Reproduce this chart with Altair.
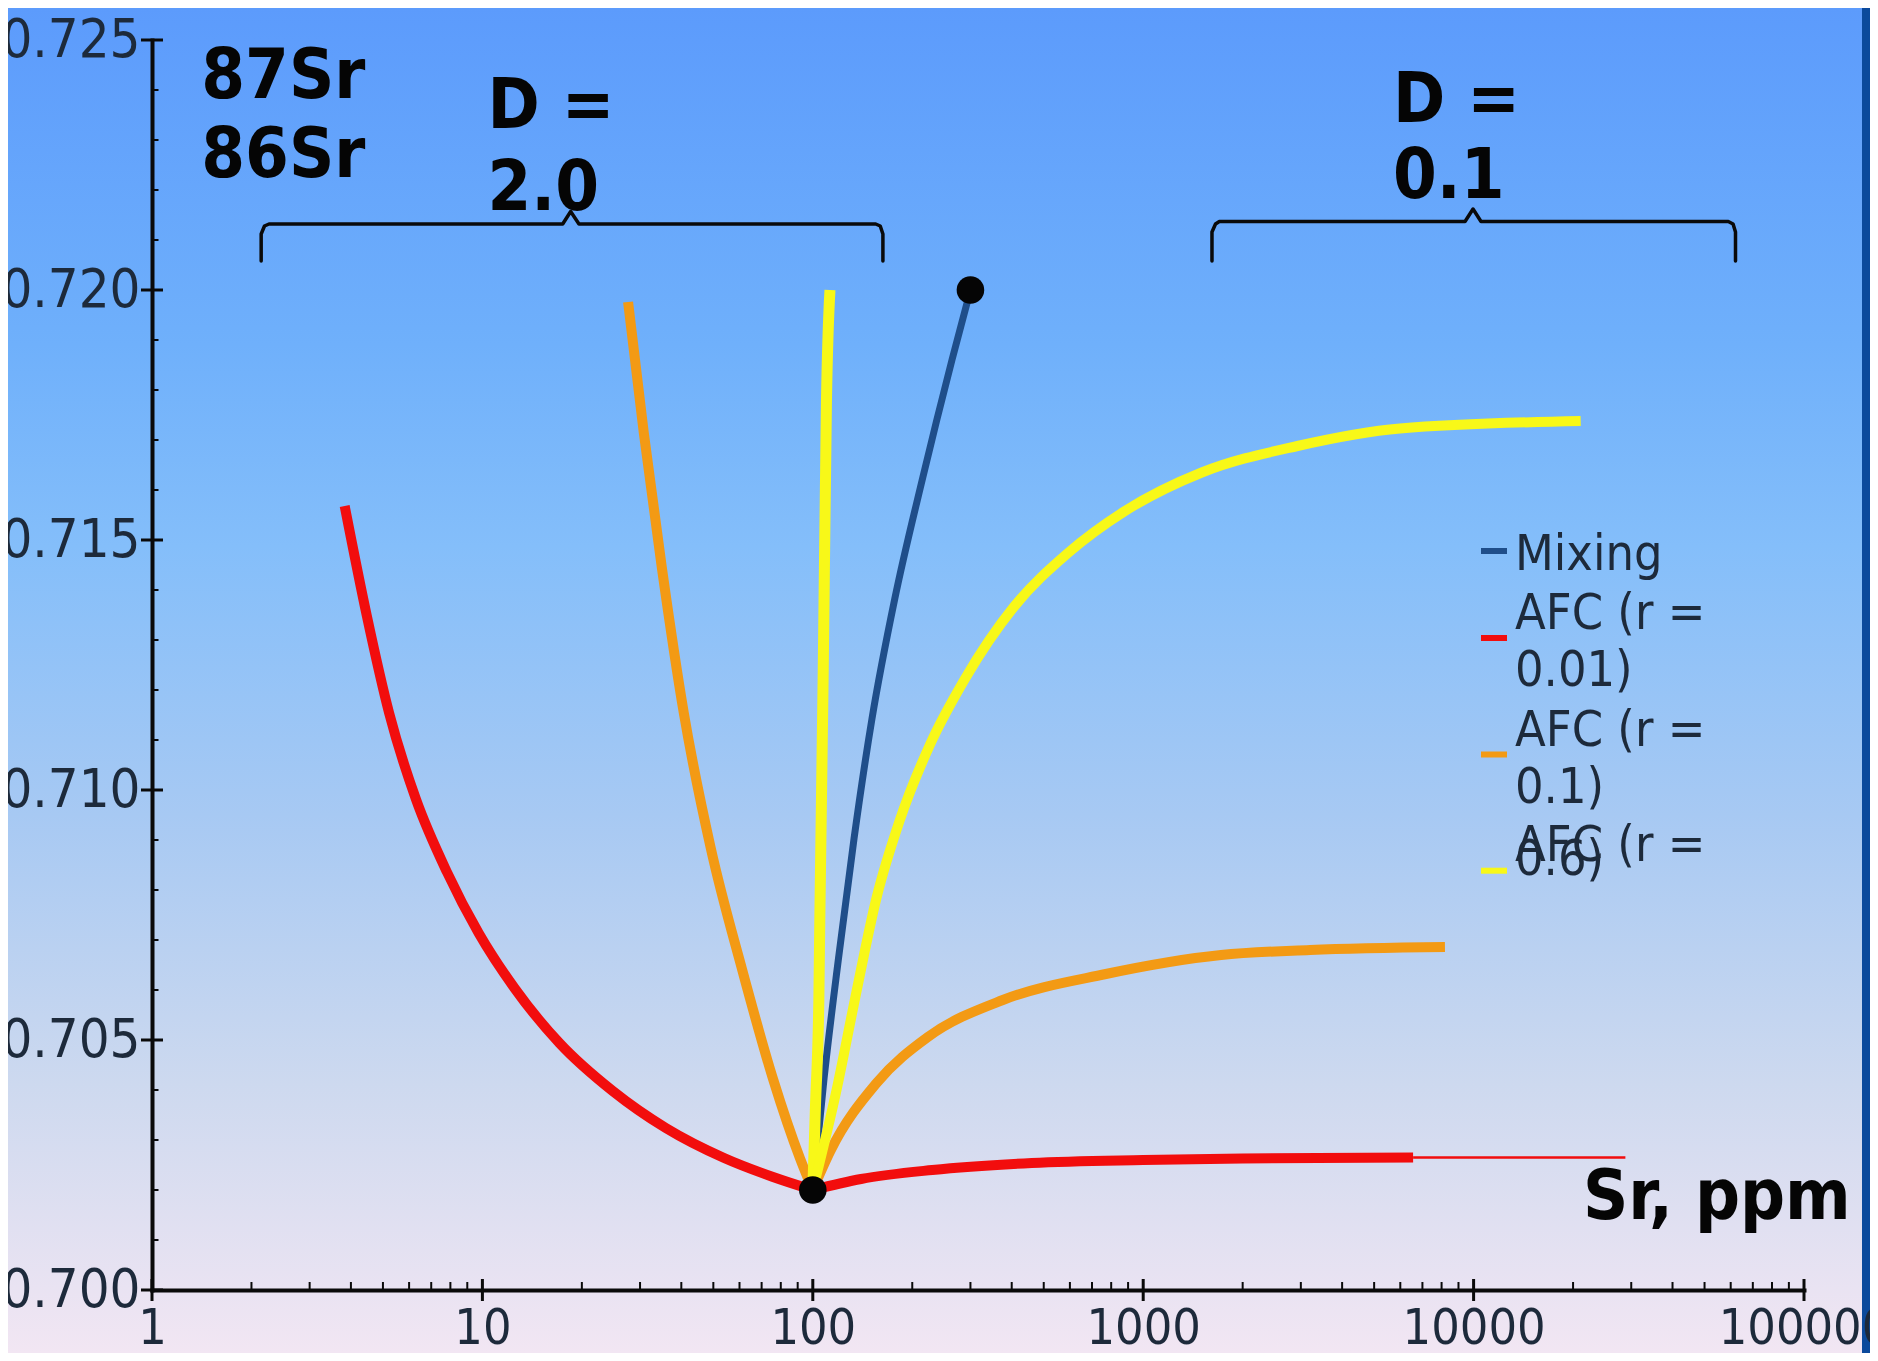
import altair as alt
import pandas as pd

# ---------------- data ----------------
# Mixing line (Sr ppm, 87Sr/86Sr)
mix_sr = [100, 108.2, 119.6, 133.3, 151, 177, 214.5, 264, 300]
mix_ratio = [0.7020, 0.70424, 0.70663, 0.70903, 0.71142, 0.71382, 0.71621, 0.71861, 0.7200]

# AFC r = 0.01 (red)
afc001_d2_sr = [3.83, 4.47, 5.22, 6.29, 7.81, 9.74, 12.5, 17.1, 24.8, 35.9, 53.9, 75.8, 100]
afc001_d2_ratio = [0.71568, 0.71348, 0.71154, 0.70982, 0.70836, 0.70714, 0.70604, 0.70494,
                   0.70398, 0.70324, 0.70264, 0.70226, 0.7020]
afc001_d01_sr = [100, 140, 230, 460, 1000, 2000, 6560]
afc001_d01_ratio = [0.7020, 0.70222, 0.7024, 0.70254, 0.7026, 0.70263, 0.70265]
afc001_tail_sr = [6560, 28800]
afc001_tail_ratio = [0.70265, 0.70265]

# AFC r = 0.1 (orange)
afc01_d2_sr = [27.6, 30.8, 34.9, 40.7, 49.1, 61.1, 75.8, 91.5, 100]
afc01_d2_ratio = [0.71976, 0.71714, 0.71446, 0.71154, 0.70884, 0.70641, 0.70422, 0.70263, 0.7020]
afc01_d01_sr = [100, 113, 156, 223, 376, 771, 1721, 3199, 8190]
afc01_d01_ratio = [0.7020, 0.70278, 0.70414, 0.70506, 0.7058, 0.70632, 0.7067, 0.7068, 0.70686]

# AFC r = 0.6 (yellow)
afc06_d2_sr = [112.7, 110, 107.5, 105, 104.3, 101.9, 100]
afc06_d2_ratio = [0.7200, 0.7178, 0.7123, 0.7074, 0.7058, 0.7037, 0.7020]
afc06_d01_sr = [100, 118, 134, 156, 183, 226.4, 288, 407, 592, 881, 1504, 2931, 5986, 21090]
afc06_d01_ratio = [0.7020, 0.7040, 0.7058, 0.70785, 0.70938, 0.71091, 0.71221, 0.71367,
                   0.71474, 0.71558, 0.71635, 0.71688, 0.71723, 0.71738]

# end-member points
point_sr = [100, 300]
point_ratio = [0.702, 0.720]

# axis ticks
x_tick_values = [1, 10, 100, 1000, 10000, 100000]
x_minor_values = [m * d for d in [1, 10, 100, 1000, 10000] for m in range(2, 10)]
y_tick_values = [0.700, 0.705, 0.710, 0.715, 0.720, 0.725]
y_minor_values = [round(0.700 + 0.001 * i, 3) for i in range(26) if i % 5 != 0]

# legend
legend_names = ["Mixing", "AFC (r = 0.01)", "AFC (r = 0.1)", "AFC (r = 0.6)"]
legend_colors = ["#1f4e8a", "#f20d0d", "#f39a14", "#f8f818"]

# annotations (text, Sr, ratio)
note_text = ["87Sr", "86Sr", "D =", "2.0", "D =", "0.1", "Sr, ppm"]
note_sr = [1.41, 1.41, 10.36, 10.36, 5702, 5702, 21430]
note_ratio = [0.72384, 0.72226, 0.72324, 0.72161, 0.72336, 0.72185, 0.70142]

# brace shapes (Sr, ratio)
brace_left_sr = [2.14, 2.14, 2.19, 2.26, 17.5, 18.5, 19.6, 155, 160, 163, 163]
brace_left_ratio = [0.72058, 0.72112, 0.72128, 0.72132, 0.72132, 0.72157, 0.72132, 0.72132, 0.72128, 0.72112, 0.72058]
brace_right_sr = [1615, 1615, 1655, 1700, 9420, 9960, 10530, 59000, 61000, 62040, 62040]
brace_right_ratio = [0.72058, 0.72116, 0.72132, 0.72137, 0.72137, 0.72162, 0.72137, 0.72137, 0.72132, 0.72116, 0.72058]

# ---------------- layout ----------------
W, H = 1652, 1250
PAD = {"left": 144, "top": 32, "right": 66, "bottom": 63}
TICK_FONT = "DejaVu Sans Condensed, DejaVu Sans"
LABEL_COLOR = "#1d2a3b"

x_scale = alt.Scale(type="log", domain=[1, 100000], nice=False)
y_scale = alt.Scale(domain=[0.700, 0.725], nice=False, zero=False)
x_axis = alt.Axis(values=x_tick_values, format="d", title=None, ticks=False, tickSize=0,
                  grid=False, labelPadding=13, labelFlush=False, labelOverlap=False,
                  labelFontSize=50,
                  domainColor="#0a0a0a", domainWidth=4, domainCap="square", zindex=1)
y_axis = alt.Axis(values=y_tick_values, format=".3f", title=None, ticks=False, tickSize=0,
                  grid=False, labelPadding=12, labelFlush=False, labelOverlap=False,
                  labelFontSize=54,
                  domainColor="#0a0a0a", domainWidth=4, domainCap="square", zindex=1)

X = alt.X("sr:Q", scale=x_scale, axis=x_axis)
Y = alt.Y("ratio:Q", scale=y_scale, axis=y_axis)
one = pd.DataFrame({"k": [0]})


def df(sr, ratio):
    return pd.DataFrame({"sr": sr, "ratio": ratio, "idx": list(range(len(sr)))})


def line(sr, ratio, color, width, smooth=True):
    return alt.Chart(df(sr, ratio)).mark_line(
        color=color, strokeWidth=width, strokeCap="butt", strokeJoin="round",
        interpolate="monotone" if smooth else "linear",
    ).encode(x=X, y=Y)


layers = []

# background gradient
bg = alt.Chart(one).mark_rect(
    clip=False,
    color={"gradient": "linear", "x1": 0, "x2": 0, "y1": 0, "y2": 1,
           "stops": [{"offset": 0.0, "color": "#5c9bfc"},
                     {"offset": 0.25, "color": "#6fb0fb"},
                     {"offset": 0.40, "color": "#84befa"},
                     {"offset": 0.60, "color": "#a7c9f3"},
                     {"offset": 0.80, "color": "#cdd9ef"},
                     {"offset": 1.0, "color": "#f2e6f3"}]},
).encode(x=alt.value(-PAD["left"]), x2=alt.value(W + PAD["right"]),
         y=alt.value(-PAD["top"]), y2=alt.value(H + PAD["bottom"]))
layers.append(bg)

# slide edge strip on the right
strip = alt.Chart(one).mark_rect(clip=False, color="#0b4a9c").encode(
    x=alt.value(W + PAD["right"] - 8), x2=alt.value(W + PAD["right"]),
    y=alt.value(-PAD["top"]), y2=alt.value(H + PAD["bottom"]))
layers.append(strip)

# curves
layers.append(line(mix_sr, mix_ratio, legend_colors[0], 7))
layers.append(line(afc001_d2_sr, afc001_d2_ratio, legend_colors[1], 10))
layers.append(line(afc001_d01_sr, afc001_d01_ratio, legend_colors[1], 10))
layers.append(line(afc001_tail_sr, afc001_tail_ratio, legend_colors[1], 2.5, smooth=False))
layers.append(line(afc01_d2_sr, afc01_d2_ratio, legend_colors[2], 10))
layers.append(line(afc01_d01_sr, afc01_d01_ratio, legend_colors[2], 10))
layers.append(line(afc06_d2_sr, afc06_d2_ratio, legend_colors[3], 11))
layers.append(line(afc06_d01_sr, afc06_d01_ratio, legend_colors[3], 10))

# end-member points
layers.append(alt.Chart(df(point_sr, point_ratio)).mark_circle(
    size=760, color="#050505", opacity=1).encode(x=X, y=Y))

# braces
brace = pd.concat([df(brace_left_sr, brace_left_ratio).assign(g="L"),
                   df(brace_right_sr, brace_right_ratio).assign(g="R")])
layers.append(alt.Chart(brace).mark_line(color="#0a0a0a", strokeWidth=3.5,
                                         strokeJoin="round", strokeCap="round").encode(
    x=X, y=Y, detail="g:N", order="idx:Q"))

# annotations
notes = pd.DataFrame({"t": note_text, "sr": note_sr, "ratio": note_ratio})
layers.append(alt.Chart(notes).mark_text(
    align="left", baseline="alphabetic", font=TICK_FONT, fontWeight="bold",
    fontSize=70, color="#050505").encode(x=X, y=Y, text="t:N"))

# axis ticks (crossing majors, inner minors)
xt = pd.DataFrame({"sr": x_tick_values, "ratio": [y_tick_values[0]] * len(x_tick_values)})
layers.append(alt.Chart(xt).mark_tick(orient="vertical", size=22, thickness=3,
                                      color="#0a0a0a", opacity=1).encode(x=X, y=Y))
xm = pd.DataFrame({"sr": x_minor_values, "ratio": [y_tick_values[0]] * len(x_minor_values)})
layers.append(alt.Chart(xm).mark_tick(orient="vertical", size=8, thickness=2, yOffset=-4,
                                      color="#0a0a0a", opacity=1).encode(x=X, y=Y))
yt = pd.DataFrame({"sr": [x_tick_values[0]] * len(y_tick_values), "ratio": y_tick_values})
layers.append(alt.Chart(yt).mark_tick(orient="horizontal", size=22, thickness=3,
                                      color="#0a0a0a", opacity=1).encode(x=X, y=Y))
ym = pd.DataFrame({"sr": [x_tick_values[0]] * len(y_minor_values), "ratio": y_minor_values})
layers.append(alt.Chart(ym).mark_tick(orient="horizontal", size=7, thickness=2, xOffset=3,
                                      color="#0a0a0a", opacity=1).encode(x=X, y=Y))

# legend (drawn by hand to keep the wrapped / overlapping labels)
legend_x_sym0, legend_x_sym1, legend_x_text = 1329, 1355, 1363
legend_first_line = [514.5, 574, 690.6, 805.6]
legend_second_gap = [0, 57, 57.4, 14.4]
legend_symbol_y = [511, 598, 714.5, 830.7]
for i, name in enumerate(legend_names):
    parts = name.replace("= ", "=\n").split("\n")
    layers.append(alt.Chart(one).mark_rule(color=legend_colors[i], strokeWidth=6,
                                           strokeCap="butt").encode(
        x=alt.value(legend_x_sym0), x2=alt.value(legend_x_sym1),
        y=alt.value(legend_symbol_y[i])))
    for j, p in enumerate(parts):
        layers.append(alt.Chart(one).mark_text(
            align="left", baseline="middle", font=TICK_FONT, fontSize=50,
            color=LABEL_COLOR).encode(
            x=alt.value(legend_x_text),
            y=alt.value(legend_first_line[i] + j * legend_second_gap[i]),
            text=alt.value(p)))

chart = alt.layer(*layers).properties(
    width=W, height=H, padding=PAD,
    autosize=alt.AutoSizeParams(type="none"), background="#ffffff",
).configure_view(stroke=None).configure_axis(
    labelFont=TICK_FONT, labelColor=LABEL_COLOR,
)

chart.save("out.html", embed_options={"renderer": "svg", "actions": False})
